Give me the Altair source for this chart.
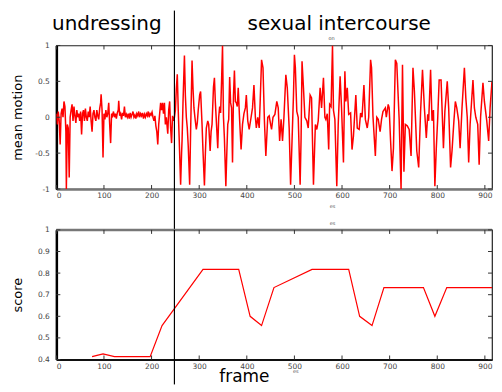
import altair as alt
import pandas as pd

# ---------------- data ----------------
motion_frames = [
    0, 2, 4, 6, 8, 10, 12, 14, 16, 18, 20, 21, 23, 25, 27, 29, 31, 33, 35, 37,
    39, 41, 43, 45, 47, 49, 51, 53, 55, 57, 59, 61, 63, 65, 67, 69, 71, 73, 75, 77,
    79, 81, 83, 85, 87, 89, 91, 93, 94, 96, 98, 100, 102, 104, 106, 108, 110, 112, 114, 116,
    118, 120, 122, 124, 126, 128, 130, 131, 133, 135, 137, 139, 141, 143, 145, 147, 149, 151, 153, 155,
    157, 159, 161, 163, 165, 167, 169, 171, 173, 175, 177, 179, 181, 183, 185, 187, 189, 191, 193, 195,
    197, 199, 201, 203, 205, 207, 209, 211, 213, 215, 217, 219, 221, 223, 225, 227, 229, 231, 234, 236,
    238, 240, 242, 244, 246, 248,
    250, 252, 254, 256, 258, 261, 263, 264, 266, 269, 271, 273, 275, 277, 280, 282, 285, 287, 289, 291,
    294, 296, 298, 301, 303, 306, 308, 311, 313, 315, 318, 320, 323, 325, 327, 330, 332, 334, 336, 339,
    341, 343, 345, 347, 349, 351, 353, 356, 358, 360, 362, 364, 366, 368, 370, 372, 374, 376, 378, 380,
    382, 385, 388, 391, 394, 397, 399, 402, 405, 409, 412, 415, 418,
    420, 423, 426, 428, 431, 434, 437, 440, 444, 447, 450, 452, 455, 459, 463, 466, 469, 472, 475, 478,
    482, 485, 489, 492, 495, 498, 500, 502, 505, 508, 512, 514, 516, 519, 522, 526, 529, 533, 536, 540,
    544, 547, 550, 554, 557, 561,
    564, 566, 569, 572, 574, 577, 580, 582, 585, 589, 592, 596, 599, 603, 606, 608, 611, 614, 618, 621,
    624, 629, 632, 636, 639, 642, 646, 649, 653, 656, 660, 662, 665, 670, 673, 676, 680, 683, 686, 691,
    693, 697, 699, 702, 705, 708, 712, 715, 720, 724, 727, 730, 733, 737, 741, 745, 749, 752, 757, 761,
    765, 769, 773, 777, 780, 782, 786, 789, 792, 795, 798, 801, 804, 808, 813, 816, 821, 824, 828, 831,
    835, 838, 841, 845, 848, 852, 857, 860, 863, 866, 869, 875, 878, 881, 885, 888, 891, 896, 899, 904,
    908, 911, 915, 918, 921, 924, 928, 931,
]
motion_values = [
    0.05, -0.1, 0.08, -0.05, -0.38, 0.05, 0.12, 0.0, 0.22, 0.15, -0.2, -1.0, -0.1, -0.15, -0.84, 0.0, 0.1, 0.18, -0.05, 0.15,
    0.02, -0.08, 0.1, 0.0, 0.05, -0.05, 0.08, -0.24, 0.05, 0.1, -0.05, 0.12, 0.0, -0.05, 0.08, 0.0, 0.15, -0.05, -0.2, 0.05,
    0.1, 0.0, -0.05, 0.1, 0.02, -0.03, 0.12, 0.2, 0.32, 0.1, -0.56, 0.05, -0.03, 0.1, 0.0, 0.05, 0.2, -0.1, -0.36, 0.05,
    0.02, 0.08, 0.0, 0.05, -0.02, 0.06, 0.1, 0.23, 0.02, 0.05, -0.03, 0.06, 0.02, 0.15, 0.0, 0.04, 0.0, 0.05, -0.02, 0.06,
    0.0, 0.04, 0.08, 0.0, 0.03, -0.02, 0.05, 0.02, 0.08, 0.0, 0.05, 0.02, 0.06, -0.02, 0.04, 0.0, 0.05, 0.02, 0.08, 0.0,
    0.05, 0.03, 0.07, 0.0, -0.05, 0.02, -0.12, -0.2, -0.38, -0.1, 0.05, 0.2, 0.1, 0.2, 0.05, 0.2, -0.1, 0.0, -0.23, 0.1,
    0.22, -0.15, -0.36, 0.02, -0.05, 0.0,
    0.1, 0.4, 0.6, 0.1, -0.3, -0.94, -0.5, -0.33, 0.2, 0.86, 0.3, 0.0, -0.15, -0.4, -0.94, -0.2, 0.79, 0.4, 0.13, 0.0,
    -0.17, -0.08, 0.1, 0.31, 0.36, -0.1, -0.47, -0.95, -0.5, -0.15, -0.05, -0.1, -0.47, -0.2, -0.1, 0.42, 0.55, 0.2, -0.05, -0.43,
    0.0, 0.15, 0.06, 0.5, 1.0, 0.0, -0.3, -0.96, -0.5, -0.1, -0.03, 0.56, 0.2, 0.13, -0.63, 0.3, 0.65, 0.22, 0.2, 0.15,
    0.41, -0.05, -0.45, -0.1, 0.05, 0.13, 0.31, -0.05, -0.17, 0.0, 0.13, 0.45, 0.0,
    -0.15, 0.0, -0.15, 0.2, 0.8, 0.69, -0.05, -0.54, 0.0, 0.02, -0.1, -0.17, 0.0, 0.04, 0.22, 0.13, -0.33, -0.03, -0.33, 0.0,
    0.59, 0.41, -0.15, -0.94, -0.33, 0.3, 0.87, 0.69, 0.08, 0.0, -0.94, -0.3, 0.78, 0.41, 0.0, -0.05, -0.15, 0.31, 0.27, -0.94,
    -0.1, -0.17, -0.05, 0.41, 0.13, 0.55,
    0.0, -0.03, 0.05, -0.45, 0.18, 0.15, 1.0, 0.1, -0.03, -0.96, -0.1, 0.57, 0.13, -0.63, 0.64, 0.22, 0.41, 0.04, 0.06, -0.45,
    -0.26, 0.31, -0.15, -0.17, 0.06, 0.0, 0.45, -0.03, -0.15, 0.0, 0.8, 0.69, 0.01, -0.54, 0.0, -0.03, -0.2, -0.03, 0.08, 0.13,
    0.0, 0.18, 0.13, -0.33, -0.75, -0.43, 0.8, 0.75, -0.03, -1.0, 0.73, -0.76, -0.1, -0.12, -0.17, -0.54, 0.69, 0.36, -0.47, -0.7,
    0.08, 0.66, 0.13, -0.29, 0.04, -0.05, 0.66, -0.05, 0.1, -0.96, -0.43, -0.01, 0.52, 0.52, -0.43, 0.08, 0.5, 0.13, -0.7, -0.47,
    -0.05, 0.22, 0.13, -0.05, -0.43, 0.13, 0.69, 0.27, 0.0, -0.63, -0.1, 0.52, 0.13, 0.0, -0.1, -0.66, 0.0, 0.48, 0.22, -0.05,
    -0.33, 0.13, 0.5, 0.22, 0.0, -0.1, -0.33, 0.0,
]

score_frames = [75, 98, 122, 197, 222, 308, 383, 407, 431, 457, 537, 614, 637, 663, 688, 771, 795, 820, 932]
score_values = [0.413, 0.426, 0.413, 0.413, 0.557, 0.817, 0.817, 0.6, 0.557, 0.733, 0.817, 0.817, 0.6, 0.557,
                0.733, 0.733, 0.6, 0.733, 0.733]

x_ticks = [0, 100, 200, 300, 400, 500, 600, 700, 800, 900]
motion_ticks = [-1, -0.5, 0, 0.5, 1]
score_ticks = [0.4, 0.5, 0.6, 0.7, 0.8, 0.9, 1.0]
boundary_frame = [248]
phase_labels = ["undressing", "sexual intercourse"]
phase_centers = [106, 594]
x_label = "frame"
X_MAX = 915

# ---------------- layout ----------------
W = 437
H1 = 144
H2 = 130
GAP = 41

motion_df = pd.DataFrame({"frame": motion_frames, "value": motion_values})
score_df = pd.DataFrame({"frame": score_frames, "value": score_values})
xt_df = pd.DataFrame({"frame": x_ticks})
mt_df = pd.DataFrame({"value": motion_ticks})
st_df = pd.DataFrame({"value": score_ticks})
bd_df = pd.DataFrame({"frame": boundary_frame})
ph_df = pd.DataFrame({"frame": phase_centers, "label": phase_labels})

xscale = alt.Scale(domain=[0, X_MAX], nice=False, zero=False)
m_yscale = alt.Scale(domain=[-1, 1], nice=False, zero=False)
s_yscale = alt.Scale(domain=[0.4, 1], nice=False, zero=False)
label_expr = "datum.value < 0 ? '-' + format(abs(datum.value), '~g') : format(datum.value, '~g')"


def x_axis(gray_domain=True):
    return alt.Axis(values=x_ticks, title=None, labelPadding=3, labelOverlap=False,
                    domainColor="#777" if gray_domain else "#111",
                    domainWidth=2.5 if gray_domain else 2)


m_yaxis = alt.Axis(values=motion_ticks, title="mean motion", labelExpr=label_expr,
                   labelPadding=7, labelOverlap=False, domainColor="#000", domainWidth=2.5,
                   titleX=-39, titleY=H1 / 2, titleBaseline="middle", titleAngle=-90)
s_yaxis = alt.Axis(values=score_ticks, title="score", format="~g",
                   labelPadding=7, labelOverlap=False, domainColor="#000", domainWidth=2.5,
                   titleX=-39, titleY=H2 / 2, titleBaseline="middle", titleAngle=-90)


def mx():
    return alt.X("frame:Q", scale=xscale, axis=x_axis(True))


def sx():
    return alt.X("frame:Q", scale=xscale, axis=x_axis(False))


def my():
    return alt.Y("value:Q", scale=m_yscale, axis=m_yaxis)


def sy():
    return alt.Y("value:Q", scale=s_yscale, axis=s_yaxis)


# ----- top panel -----
m_line = alt.Chart(motion_df).mark_line(color="#ff0000", strokeWidth=1.5, clip=True).encode(
    x=mx(), y=my())
m_xt_top = alt.Chart(xt_df).mark_rule(color="#333").encode(
    x=mx(), y=alt.value(0), y2=alt.value(4))
m_xt_bot = alt.Chart(xt_df).mark_rule(color="#333").encode(
    x=mx(), y=alt.value(H1 - 4), y2=alt.value(H1))
m_yt_l = alt.Chart(mt_df).mark_rule(color="#333").encode(
    y=my(), x=alt.value(0), x2=alt.value(4))
m_yt_r = alt.Chart(mt_df).mark_rule(color="#333").encode(
    y=my(), x=alt.value(W - 4), x2=alt.value(W))
m_bound = alt.Chart(bd_df).mark_rule(color="#000", strokeWidth=1.2).encode(
    x=mx(), y=alt.value(-35), y2=alt.value(H1 + GAP))
m_phase = alt.Chart(ph_df).mark_text(font="DejaVu Sans", fontSize=20, color="#000",
                                     baseline="alphabetic", align="center").encode(
    x=mx(), y=alt.value(-16), text="label:N")
m_small1 = alt.Chart(pd.DataFrame({"frame": [578], "t": ["on"]})).mark_text(
    font="DejaVu Sans", fontSize=5, color="#555").encode(x=mx(), y=alt.value(-7), text="t:N")
m_small2 = alt.Chart(pd.DataFrame({"frame": [580], "t": ["es"]})).mark_text(
    font="DejaVu Sans", fontSize=5, color="#555").encode(x=mx(), y=alt.value(H1 + 17), text="t:N")

top = alt.layer(m_line, m_xt_top, m_xt_bot, m_yt_l, m_yt_r, m_bound, m_phase, m_small1, m_small2).properties(
    width=W, height=H1)

# ----- bottom panel -----
s_line = alt.Chart(score_df).mark_line(color="#ff0000", strokeWidth=1.2, clip=True).encode(
    x=sx(), y=sy())
s_topedge = alt.Chart(xt_df.head(1)).mark_rule(color="#777", strokeWidth=2.5).encode(
    x=alt.value(0), x2=alt.value(W), y=alt.value(0))
s_xt_top = alt.Chart(xt_df).mark_rule(color="#333").encode(
    x=sx(), y=alt.value(0), y2=alt.value(4))
s_xt_bot = alt.Chart(xt_df).mark_rule(color="#333").encode(
    x=sx(), y=alt.value(H2 - 4), y2=alt.value(H2))
s_yt_l = alt.Chart(st_df).mark_rule(color="#333").encode(
    y=sy(), x=alt.value(0), x2=alt.value(4))
s_yt_r = alt.Chart(st_df).mark_rule(color="#333").encode(
    y=sy(), x=alt.value(W - 4), x2=alt.value(W))
s_bound = alt.Chart(bd_df).mark_rule(color="#000", strokeWidth=1.2).encode(
    x=sx(), y=alt.value(0), y2=alt.value(155))
s_xlabel = alt.Chart(pd.DataFrame({"frame": [395], "t": [x_label]})).mark_text(
    font="DejaVu Sans", fontSize=17, color="#000", baseline="alphabetic", align="center").encode(
    x=sx(), y=alt.value(152.5), text="t:N")
s_small1 = alt.Chart(pd.DataFrame({"frame": [580], "t": ["es"]})).mark_text(
    font="DejaVu Sans", fontSize=5, color="#555").encode(x=sx(), y=alt.value(-7), text="t:N")
s_small2 = alt.Chart(pd.DataFrame({"frame": [503], "t": ["es"]})).mark_text(
    font="DejaVu Sans", fontSize=5, color="#555").encode(x=sx(), y=alt.value(H2 + 12), text="t:N")

bottom = alt.layer(s_line, s_topedge, s_xt_top, s_xt_bot, s_yt_l, s_yt_r, s_bound, s_xlabel,
                   s_small1, s_small2).properties(width=W, height=H2)

chart = alt.vconcat(top, bottom, spacing=GAP, bounds="flush").properties(
    padding={"left": 2.5, "top": 0, "right": 0, "bottom": 0},
    background="white",
).configure_axis(
    labelFont="DejaVu Sans", labelFontSize=7.5, labelColor="#444", labelOverlap=False,
    titleFont="DejaVu Sans", titleFontSize=13, titleFontWeight="normal", titleColor="#000",
    ticks=False, grid=False,
).configure_view(stroke="#222", strokeWidth=1.2)

chart.save("out.html", embed_options={"renderer": "svg", "actions": False})
